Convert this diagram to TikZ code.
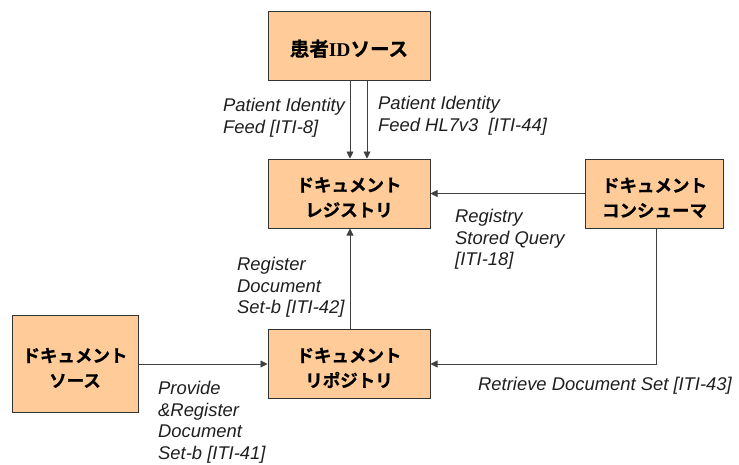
\documentclass[tikz,border=0pt]{standalone}
\usepackage{fontspec}
\setmainfont{Liberation Sans}
\newfontfamily\jpfont{Noto Sans CJK JP}[BoldFont={Noto Sans CJK JP Bold},BoldFeatures={FakeBold=0.8}]
\newfontfamily\idfont{Liberation Serif}
\usetikzlibrary{arrows.meta}
\definecolor{boxfill}{HTML}{FFCC99}
\definecolor{boxline}{HTML}{333333}
\definecolor{wire}{HTML}{404040}
% invisible strut that sets the box text slightly below the centre
\newcommand\boxlift{\rule{0pt}{22pt}}
\begin{document}
\begin{tikzpicture}[x=1pt,y=-1pt,
  actor/.style={draw=boxline,fill=boxfill,line width=1pt,inner sep=0pt,
    minimum width=162pt,minimum height=69pt,align=center,
    font=\jpfont\bfseries\fontsize{17.5}{25}\selectfont},
  flow/.style={draw=wire,line width=0.9pt,-{Triangle[length=7pt,width=7pt]}},
  tx/.style={font=\itshape\fontsize{18.4}{21.8}\selectfont,align=left,
    anchor=north west,inner sep=0pt,text=black!88}]
\useasboundingbox (0,0) rectangle (739,464);
% actors
\node[actor] (pix) at (349,46) {\boxlift\fontsize{19.5}{25}\selectfont 患者{\idfont\bfseries ID}ソース};
\node[actor] (reg) at (349,193.5) {\boxlift ドキュメント\\レジストリ};
\node[actor,minimum width=138pt] (cons) at (654.5,194) {\boxlift ドキュメント\\コンシューマ};
\node[actor,minimum width=126pt,minimum height=97pt] (src) at (75,364) {\boxlift ドキュメント\\ソース};
\node[actor] (rep) at (349,364) {\boxlift ドキュメント\\リポジトリ};
% transactions
\draw[flow] ([xshift=1pt]pix.south) -- ([xshift=1pt]reg.north);
\draw[flow] ([xshift=18pt]pix.south) -- ([xshift=18pt]reg.north);
\draw[flow] (cons.west |- reg.east) -- (reg.east);
\draw[flow] ([xshift=1pt]rep.north) -- ([xshift=1pt]reg.south);
\draw[flow] (src.east) -- (rep.west);
\coordinate (corner) at ([xshift=1.5pt]cons.south |- rep.east);
\draw[flow] ([xshift=1.5pt]cons.south) -- (corner) -- (rep.east);
% labels
\node[tx] (l8) at (223,97.8) {Patient Identity\\Feed [ITI-8]};
\node[tx] (l44) at (378,96.3) {Patient Identity\\Feed HL7v3\ \ [ITI-44]};
\node[tx] (l18) at (455,208.8) {Registry\\Stored Query\\{[ITI-18]}};
\node[tx] (l42) at (237,256.8) {Register\\Document\\Set-b [ITI-42]};
\node[tx] (l41) at (158,380.8) {Provide\\\&Register\\Document\\Set-b [ITI-41]};
\node[tx] (l43) at (478,376.8) {Retrieve Document Set [ITI-43]};
\end{tikzpicture}
\end{document}
